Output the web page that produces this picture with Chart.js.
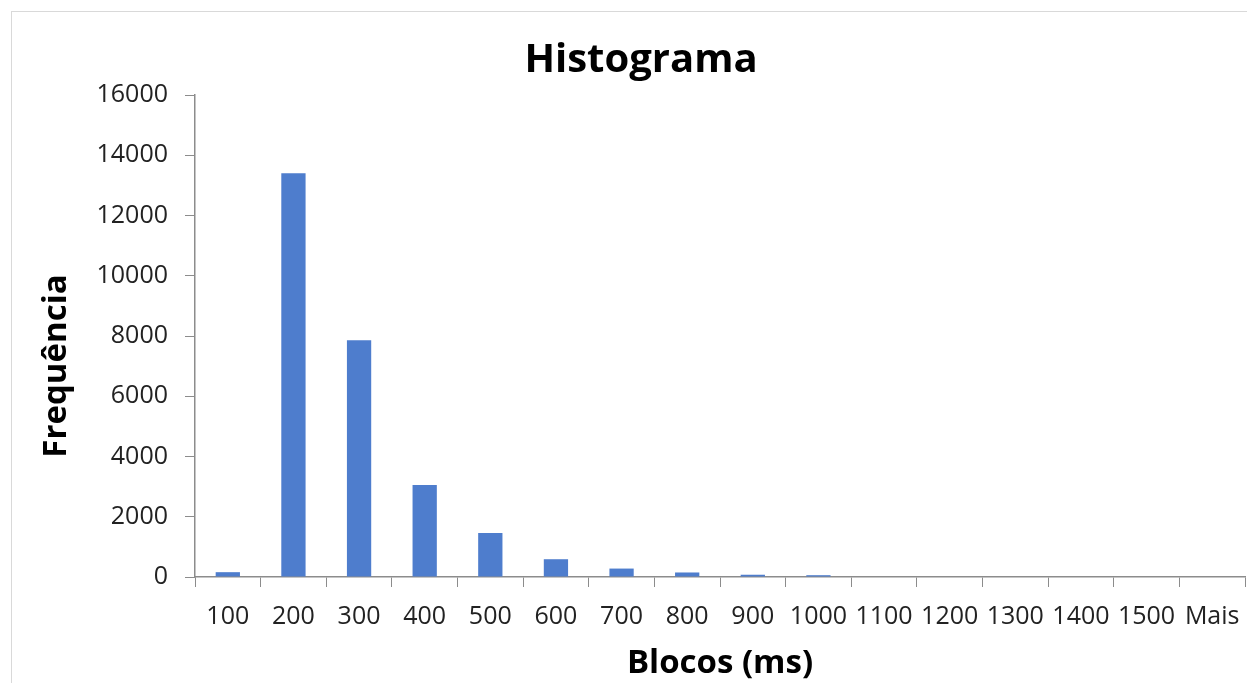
<!DOCTYPE html>
<html lang="pt">
<head>
  <meta charset="UTF-8" />
  <title>Histograma</title>
  <script src="https://cdn.jsdelivr.net/npm/chart.js"></script>
  <style>
    html, body { margin: 0; padding: 0; background: #fff; overflow: hidden; }
    #wrap { position: relative; width: 1247px; height: 683px; }
    #moldura {
      position: absolute; left: 11px; top: 11px;
      width: 1300px; height: 800px;
      border: 1.5px solid #d9d9d9; box-sizing: border-box;
      pointer-events: none;
    }
  </style>
</head>
<body>
  <div id="wrap">
    <canvas id="histograma" width="1247" height="683"></canvas>
    <div id="moldura"></div>
  </div>

  <script>
    // Classes (limite superior do bloco, em ms)
    const blocos = ['100', '200', '300', '400', '500', '600', '700', '800',
                    '900', '1000', '1100', '1200', '1300', '1400', '1500', 'Mais'];

    // Frequência de cada classe
    const frequencias = [160, 13400, 7860, 3050, 1460, 590, 280, 150,
                         75, 60, 0, 0, 0, 0, 0, 0];

    const eixoCor = '#8c8c8c';
    const fonte = '"Open Sans", sans-serif';

    new Chart(document.getElementById('histograma'), {
      type: 'bar',
      data: {
        labels: blocos,
        datasets: [{
          label: 'Frequência',
          data: frequencias,
          backgroundColor: '#4e7dcd',
          barPercentage: 0.37,
          categoryPercentage: 1.0
        }]
      },
      options: {
        responsive: false,
        animation: false,
        layout: { padding: { left: 37, right: 2, top: 37, bottom: 0 } },
        plugins: {
          legend: { display: false },
          tooltip: { enabled: false },
          title: {
            display: true,
            text: 'Histograma',
            color: '#000',
            font: { family: fonte, size: 40, weight: 'bold' },
            padding: { top: 0, bottom: 10 }
          }
        },
        scales: {
          x: {
            grid: {
              display: true,
              offset: true,
              drawOnChartArea: false,
              drawTicks: true,
              tickLength: 10,
              color: eixoCor
            },
            border: { display: true, color: eixoCor, width: 1.5 },
            ticks: {
              color: '#222',
              font: { family: fonte, size: 25 },
              padding: 15,
              maxRotation: 0,
              autoSkip: false
            },
            title: {
              display: true,
              text: 'Blocos (ms)',
              color: '#000',
              font: { family: fonte, size: 33, weight: 'bold' },
              padding: { top: 0, bottom: 0 }
            },
            afterFit: (scale) => {
              scale.height = 106;
              scale.paddingLeft = 0;
              scale.paddingRight = 0;
            }
          },
          y: {
            min: 0,
            max: 16000,
            grid: {
              display: true,
              drawOnChartArea: false,
              drawTicks: true,
              tickLength: 10,
              color: eixoCor
            },
            border: { display: true, color: eixoCor, width: 1.5 },
            ticks: {
              stepSize: 2000,
              color: '#222',
              font: { family: fonte, size: 25 },
              padding: 17,
              callback: (v) => String(v)
            },
            title: {
              display: true,
              // espaços no fim: desloca o título para baixo, como no original
              text: 'Frequência' + '\u00A0'.repeat(7),
              color: '#000',
              font: { family: fonte, size: 33, weight: 'bold' },
              padding: { top: 0, bottom: 10 }
            },
            afterFit: (scale) => { scale.width = 158; }
          }
        }
      }
    });
  </script>
</body>
</html>
